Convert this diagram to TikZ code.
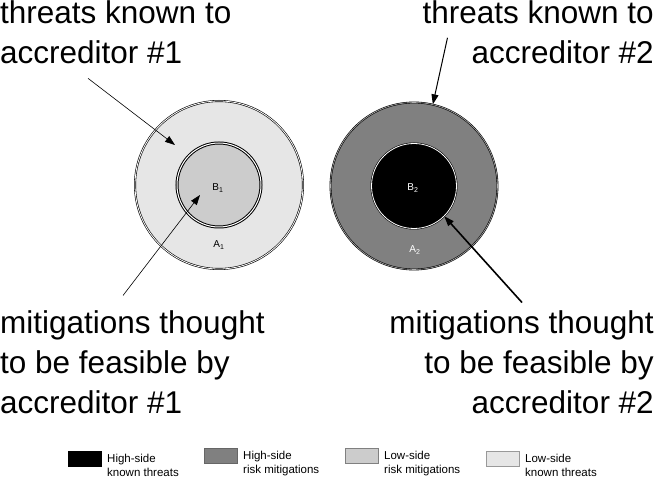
\documentclass[tikz,border=0pt]{standalone}
\usepackage{fontspec}
\setmainfont{Liberation Sans}
\usetikzlibrary{positioning, arrows.meta}

\definecolor{lowthreat}{HTML}{E6E6E6}
\definecolor{lowmitig}{HTML}{CCCCCC}
\definecolor{highmitig}{HTML}{808080}

\tikzset{
  ring/.style={circle, draw=black, double=white, line width=0.6pt, double distance=0.8pt, inner sep=0pt},
  bigtext/.style={inner sep=0pt, font=\fontsize{31.5}{40}\selectfont},
  keytext/.style={inner sep=0pt, align=left, anchor=north west, font=\fontsize{11.5}{14}\selectfont},
  keybox/.style={draw=gray, minimum width=33pt, minimum height=15pt, inner sep=0pt},
  pointer/.style={line width=0.6pt, -{Triangle[length=10pt, width=7pt]}},
  ringlabel/.style={inner sep=0pt, font=\fontsize{10}{12}\selectfont}
}

\begin{document}
\begin{tikzpicture}[x=1pt, y=-1pt]
  \useasboundingbox (0,0) rectangle (654,478);

  % Accreditor #1: low-side threats and mitigations
  \node[ring, fill=lowthreat, minimum size=168pt] (outer1) at (219,185) {};
  \node[ring, fill=lowmitig, minimum size=84pt, line width=1pt, double distance=1pt] (inner1) at (219,185) {};
  \node[ringlabel] (b1) at (218,188) {B\textsubscript{1}};
  \node[ringlabel] (a1) at (219,245) {A\textsubscript{1}};

  % Accreditor #2: high-side threats and mitigations
  \node[ring, fill=highmitig, double=gray!60, double distance=0.6pt, minimum size=167pt] (outer2) at (414,186) {};
  \node[ring, fill=black, minimum size=85pt] (inner2) at (414,186) {};
  \node[ringlabel, text=white] (b2) at (413,188) {B\textsubscript{2}};
  \node[ringlabel, text=white] (a2) at (415,250) {A\textsubscript{2}};

  % Captions
  \node[bigtext, align=left, anchor=north west] (known1) at (0,0.8) {threats known to\\accreditor \#1};
  \node[bigtext, align=right, anchor=north east] (known2) at (654,0.8) {threats known to\\accreditor \#2};
  \node[bigtext, align=left, anchor=north west] (mitig1) at (0,310.5) {mitigations thought\\to be feasible by\\accreditor \#1};
  \node[bigtext, align=right, anchor=north east] (mitig2) at (654,310.5) {mitigations thought\\to be feasible by\\accreditor \#2};

  % Pointers
  \coordinate (tip1) at (175,145);
  \coordinate (tip2) at (200,195);
  \draw[pointer] ([shift={(88,14)}]known1.south west) -- (tip1);
  \draw[pointer] ([shift={(123,-15)}]mitig1.north west) -- (tip2);
  \draw[pointer, line width=1pt] ([shift={(25,37)}]known2.north west) -- (outer2.77);
  \draw[pointer, line width=1.6pt] ([shift={(-132,-8)}]mitig2.north east) -- (inner2.-45);

  % Legend
  \node[keybox, draw=black, fill=black] (key1) at (84.5,458.5) {};
  \node[keybox, draw=gray!80!black, fill=highmitig] (key2) at (221,455.5) {};
  \node[keybox, draw=highmitig, fill=lowmitig] (key3) at (362,455.5) {};
  \node[keybox, draw=gray!80, fill=lowthreat] (key4) at (503,459) {};
  \node[keytext] (keytext1) at (107,453.5) {High-side\\known threats};
  \node[keytext] (keytext2) at (243,451) {High-side\\risk mitigations};
  \node[keytext] (keytext3) at (384,451) {Low-side\\risk mitigations};
  \node[keytext] (keytext4) at (525,453.5) {Low-side\\known threats};
\end{tikzpicture}
\end{document}
